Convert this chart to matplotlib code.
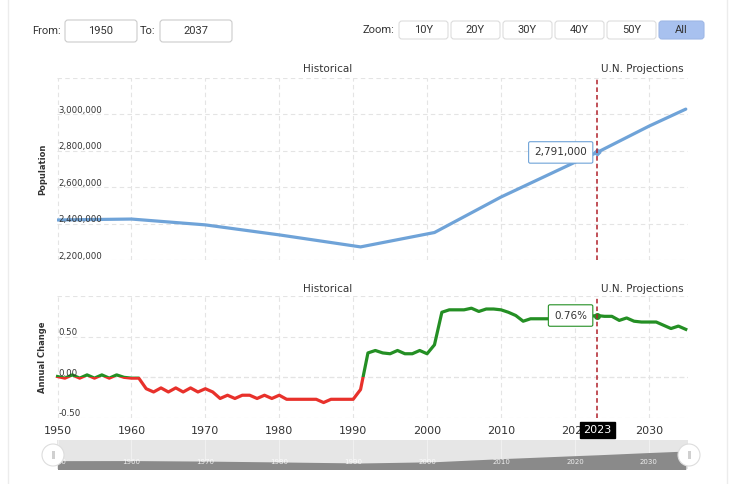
import numpy as np
import matplotlib
matplotlib.use("Agg")
import matplotlib.pyplot as plt
import matplotlib.transforms as mtransforms
from matplotlib.patches import Rectangle, FancyBboxPatch, Circle

# --- data ---
pop_years = [1950, 1960, 1970, 1980, 1991, 2001, 2010, 2020, 2023, 2030, 2035]
pop_values = [2420000, 2425000, 2393000, 2338000, 2272000, 2351000,
              2546000, 2737000, 2791000, 2935000, 3029000]

chg_years = list(range(1950, 2036))
chg_values = [
    0.01, -0.01, 0.03, -0.01, 0.03, -0.01, 0.03, -0.01, 0.03, 0.00,     # 1950-59
    -0.01, -0.01, -0.14, -0.18, -0.13, -0.18, -0.13, -0.18, -0.13, -0.18,  # 1960-69
    -0.14, -0.18, -0.26, -0.22, -0.26, -0.22, -0.22, -0.26, -0.22, -0.26,  # 1970-79
    -0.22, -0.27, -0.27, -0.27, -0.27, -0.27, -0.31, -0.27, -0.27, -0.27,  # 1980-89
    -0.27, -0.15, 0.30, 0.33, 0.30, 0.29, 0.33, 0.29, 0.29, 0.33,        # 1990-99
    0.29, 0.40, 0.80, 0.83, 0.83, 0.83, 0.85, 0.81, 0.84, 0.84,          # 2000-09
    0.83, 0.80, 0.76, 0.69, 0.72, 0.72, 0.72, 0.72, 0.73, 0.73,          # 2010-19
    0.74, 0.74, 0.75, 0.76, 0.75, 0.75, 0.70, 0.73, 0.69, 0.68,          # 2020-29
    0.68, 0.68, 0.64, 0.60, 0.63, 0.59,                                  # 2030-35
]

decade_ticks = [1950, 1960, 1970, 1980, 1990, 2000, 2010, 2020, 2030]
pop_ticks = [2200000, 2400000, 2600000, 2800000, 3000000, 3200000]
chg_ticks = [-0.5, 0.0, 0.5, 1.0]
current_year = 2023
zoom_buttons = ["10Y", "20Y", "30Y", "40Y", "50Y", "All"]

# --- styling ---
W, H = 750, 484
BLUE = "#6fa3d8"
GREEN = "#248f24"
RED = "#e8312b"
GRID = "#e4e4e4"
TXT = "#333333"
XLIM = (1950, 2035.3)

plt.rcParams["font.family"] = ["DejaVu Sans"]

fig = plt.figure(figsize=(W / 100, H / 100), dpi=100)


def box(x0, y0, x1, y1):
    # pixel box (top-left origin) -> figure fraction rect
    return [x0 / W, 1 - y1 / H, (x1 - x0) / W, (y1 - y0) / H]


ui = fig.add_axes([0, 0, 1, 1], zorder=0)
ui.set_xlim(0, W)
ui.set_ylim(H, 0)
ui.axis("off")

ax1 = fig.add_axes(box(57.5, 78, 688, 260), zorder=2)
ax2 = fig.add_axes(box(57.5, 296, 688, 418), zorder=2)
nav = fig.add_axes(box(57.5, 440, 688, 469), zorder=2)

for ax in (ax1, ax2, nav):
    ax.set_facecolor("none")
    for s in ax.spines.values():
        s.set_visible(False)
    ax.set_xlim(*XLIM)
    ax.set_xticks(decade_ticks)
    ax.tick_params(length=0)

# --- population panel ---
ax1.plot(pop_years, pop_values, color=BLUE, lw=2.3, solid_capstyle="round", zorder=3)
ax1.set_ylim(2200000, 3200000)
ax1.set_yticks(pop_ticks)
ax1.set_yticklabels([])
ax1.set_xticklabels([])
ax1.grid(True, color=GRID, linestyle=(0, (4, 3)), lw=0.8)
ytr1 = mtransforms.blended_transform_factory(ax1.transAxes, ax1.transData)
for v in pop_ticks[:-1]:
    ax1.annotate(f"{v:,.0f}", xy=(0, v), xycoords=ytr1, xytext=(1, 4),
                 textcoords="offset pixels", ha="left", va="center",
                 fontsize=6.2, color=TXT)
ax1.set_ylabel("Population", fontsize=6, fontweight="bold", color=TXT, labelpad=4)

pop_now = pop_values[pop_years.index(current_year)]
ax1.plot([current_year], [pop_now], marker="D", ms=3.5, color=BLUE, zorder=4)
ax1.annotate(f"{pop_now:,.0f}", xy=(current_year, pop_now), xytext=(-10, 0),
             textcoords="offset pixels", ha="right", va="center", fontsize=7.5,
             color=TXT, zorder=5,
             bbox=dict(boxstyle="round,pad=0.55,rounding_size=0.15",
                       fc="white", ec=BLUE, lw=0.8))

# --- annual change panel ---
ax2.set_ylim(-0.5, 1.0)
for col, lo, hi in ((GREEN, 0, 5), (RED, -5, 0)):
    line, = ax2.plot(chg_years, chg_values, color=col, lw=2.3, zorder=3)
    clip = Rectangle((1900, lo), 200, hi - lo, transform=ax2.transData)
    line.set_clip_path(clip)
ax2.set_yticks(chg_ticks)
ax2.set_yticklabels([])
ax2.grid(True, color=GRID, linestyle=(0, (4, 3)), lw=0.8)
ax2.axhline(0, color="#cfcfcf", linestyle=(0, (4, 3)), lw=0.8, zorder=1)
ax2.set_xticklabels([str(y) for y in decade_ticks], fontsize=8, color=TXT)
ax2.tick_params(axis="x", pad=6)
ytr2 = mtransforms.blended_transform_factory(ax2.transAxes, ax2.transData)
for v in chg_ticks[:-1]:
    ax2.annotate(f"{v:.2f}", xy=(0, v), xycoords=ytr2, xytext=(1, 4),
                 textcoords="offset pixels", ha="left", va="center",
                 fontsize=6.2, color=TXT)
ax2.set_ylabel("Annual Change", fontsize=6, fontweight="bold", color=TXT, labelpad=4)

chg_now = chg_values[chg_years.index(current_year)]
ax2.plot([current_year], [chg_now], marker="o", ms=4, color=GREEN, zorder=4)
ax2.annotate(f"{chg_now:.2f}%", xy=(current_year, chg_now), xytext=(-10, 0),
             textcoords="offset pixels", ha="right", va="center", fontsize=7.5,
             color=TXT, zorder=5,
             bbox=dict(boxstyle="round,pad=0.55,rounding_size=0.15",
                       fc="white", ec=GREEN, lw=0.8))

xtr2 = mtransforms.blended_transform_factory(ax2.transData, ax2.transAxes)
ax2.annotate(str(current_year), xy=(current_year, 0), xycoords=xtr2,
             xytext=(0, -12), textcoords="offset pixels", ha="center", va="center",
             fontsize=8, color="white", zorder=6, annotation_clip=False,
             bbox=dict(boxstyle="square,pad=0.3", fc="black", ec="black"))

# projection marker line and section titles
for ax in (ax1, ax2):
    ax.axvline(current_year, color="#b0202a", linestyle=(0, (3, 2)), lw=1.1, zorder=4)
    xtr = mtransforms.blended_transform_factory(ax.transData, ax.transAxes)
    ax.text((XLIM[0] + current_year) / 2, 1.02, "Historical", transform=xtr,
            ha="center", va="bottom", fontsize=7.5, color=TXT)
    ax.text((current_year + XLIM[1]) / 2, 1.02, "U.N. Projections", transform=xtr,
            ha="center", va="bottom", fontsize=7.5, color=TXT)

# --- navigator ---
nav.set_facecolor("#e6e6e6")
nav.fill_between(pop_years, 0, pop_values, color="#8a8a8a", lw=0, zorder=2)
nav.set_ylim(1890000, 3730000)
nav.set_yticks([])
nav.set_xticklabels([])
nav.grid(True, axis="x", color="#f2f2f2", lw=0.6)
nav.set_axisbelow(True)
xtrn = mtransforms.blended_transform_factory(nav.transData, nav.transAxes)
for y in decade_ticks:
    nav.text(y, 0.25, str(y), transform=xtrn, ha="center", va="center",
             fontsize=5, color="white", alpha=0.85, zorder=3)

# --- UI chrome (page frame, range inputs, zoom buttons, handles) ---
ui.plot([8, 8], [0, H], color="#ececec", lw=1)
ui.plot([727, 727], [0, H], color="#ececec", lw=1)

ui_font = ["Roboto", "DejaVu Sans"]
ui.text(32, 31, "From:", ha="left", va="center", fontsize=8, color=TXT, family=ui_font)
ui.add_patch(FancyBboxPatch((65, 20), 72, 22, boxstyle="round,pad=0,rounding_size=3",
                            fc="white", ec="#cccccc", lw=0.8))
ui.text(101, 31, "1950", ha="center", va="center", fontsize=8, color=TXT, family=ui_font)
ui.text(140, 31, "To:", ha="left", va="center", fontsize=8, color=TXT, family=ui_font)
ui.add_patch(FancyBboxPatch((160, 20), 72, 22, boxstyle="round,pad=0,rounding_size=3",
                            fc="white", ec="#cccccc", lw=0.8))
ui.text(196, 31, "2037", ha="center", va="center", fontsize=8, color=TXT, family=ui_font)

ui.text(394, 30, "Zoom:", ha="right", va="center", fontsize=8, color=TXT, family=ui_font)
for i, lab in enumerate(zoom_buttons):
    x0 = 399 + i * 52
    active = lab == "All"
    ui.add_patch(FancyBboxPatch((x0, 21), 49 if not active else 45, 18,
                                boxstyle="round,pad=0,rounding_size=3",
                                fc="#a8c1ef" if active else "white",
                                ec="#9fb8e6" if active else "#dddddd", lw=0.8))
    ui.text(x0 + (24.5 if not active else 22.5), 30, lab, ha="center", va="center",
            fontsize=8, color=TXT, family=ui_font)

for hx in (53, 689):
    ui.add_patch(Circle((hx, 455), 11, fc="white", ec="#dddddd", lw=0.8, zorder=5))
    ui.add_patch(Rectangle((hx - 1.5, 451), 3, 8, fc="#d0d0d0", ec="none", zorder=6))
ui.set_zorder(3)
ui.set_facecolor("none")

fig.savefig("out.png", dpi=100, facecolor="white")
